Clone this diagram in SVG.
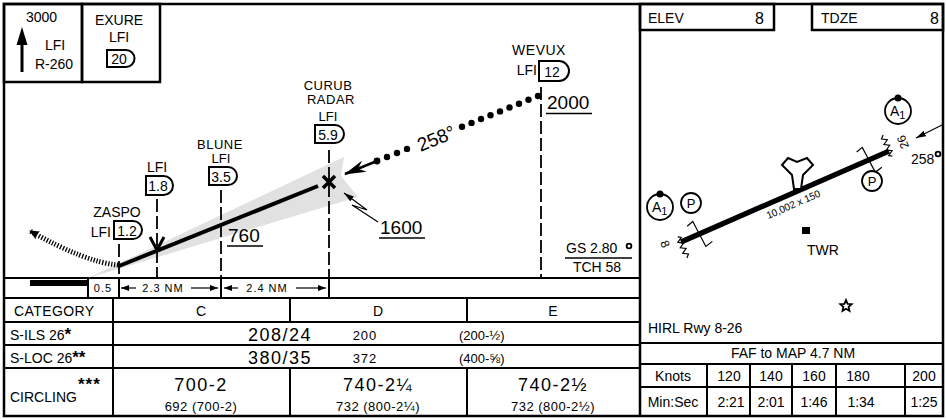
<svg xmlns="http://www.w3.org/2000/svg" width="946" height="419" viewBox="0 0 946 419">
<defs>
<style>
text{font-family:"Liberation Sans",Arial,sans-serif;fill:#000}
.f14{font-size:14px}
.f13{font-size:13px}
.f12{font-size:12px}
.f11{font-size:11px}
.f10{font-size:10px}
.big{font-size:18px;letter-spacing:1.5px}
.alt{font-size:19px}
.m{text-anchor:middle}
.e{text-anchor:end}
.frame{fill:none;stroke:#000;stroke-width:2.5}
.grid{fill:none;stroke:#000;stroke-width:2}
.dash{fill:none;stroke:#000;stroke-width:1.8;stroke-dasharray:13 4}
.dme{fill:#fff;stroke:#000;stroke-width:2}
.thin{fill:none;stroke:#000;stroke-width:1.2}
.ul{stroke:#000;stroke-width:1.3}
.dot{fill:#000}
.circ{fill:#fff;stroke:#000;stroke-width:1.8}
</style>
<marker id="sa" viewBox="0 0 8 6" refX="8" refY="3" markerWidth="8" markerHeight="6" markerUnits="userSpaceOnUse" orient="auto"><path d="M0,0 L8,3 L0,6 Z"/></marker>
<marker id="barb" viewBox="0 0 22 12" refX="21" refY="6" markerWidth="22" markerHeight="12" markerUnits="userSpaceOnUse" orient="auto"><path d="M0,0 L22,6 L0,12 L7,6 Z"/></marker>
<marker id="ma" viewBox="0 0 10 9" refX="9" refY="4.5" markerWidth="10" markerHeight="9" markerUnits="userSpaceOnUse" orient="auto"><path d="M0,0 L10,4.5 L0,9 L2,4.5 Z"/></marker>
<marker id="ta" viewBox="0 0 10 6" refX="10" refY="3" markerWidth="10" markerHeight="6" markerUnits="userSpaceOnUse" orient="auto"><path d="M0,0 L10,3 L0,6 Z"/></marker>
</defs>
<rect x="0" y="0" width="946" height="419" fill="#fff"/>

<!-- frame and tables -->
<g id="frame">
<rect class="frame" x="4" y="4" width="939" height="412"/>
<line class="frame" x1="640" y1="4" x2="640" y2="416"/>
<rect class="frame" x="4" y="4" width="78" height="78"/>
<rect class="frame" x="82" y="4" width="78" height="78"/>
<rect class="frame" x="640" y="4" width="134" height="26"/>
<rect class="frame" x="812" y="4" width="131" height="26"/>
<path class="grid" d="M4,278 H640 M4,298 H640 M4,322 H640 M4,345 H640 M4,368 H640"/>
<path class="grid" d="M88,278 V298 M119,278 V298 M221,278 V298 M329,278 V298"/>
<path class="grid" d="M113,298 V416 M290,298 V322 M290,368 V416 M467,298 V322 M467,368 V416"/>
<path class="grid" d="M640,343 H943 M640,364 H943 M640,387 H943"/>
<path class="grid" d="M707,364 V416 M750,364 V416 M792,364 V416 M836,364 V416 M905,364 V416"/>
</g>

<!-- top-left boxes -->
<g id="msa">
<line x1="22" y1="72" x2="22" y2="40" stroke="#000" stroke-width="3"/>
<path d="M22,27 L27.5,45 L16.5,45 Z"/>
<text class="f14" x="26" y="22">3000</text>
<text class="f14" x="45" y="50">LFI</text>
<text class="f14" x="35" y="69">R-260</text>
</g>
<g id="exure">
<text class="f14 m" x="119" y="25">EXURE</text>
<text class="f14 m" x="119" y="42">LFI</text>
<path class="dme" d="M107,50 H126 A8.5,8.5 0 0 1 126,67 H107 Z"/>
<text class="f14 m" x="119" y="64">20</text>
</g>

<!-- glide slope wedge -->
<g id="wedge">
<path d="M88,278 L344,157 L341,176 L358,197 Z" fill="#e1e1e1"/>
</g>

<!-- connectors / profile -->
<g id="connectors">
<path class="dash" d="M119,244 V278"/>
<path class="dash" d="M157,199 V278"/>
<path class="dash" d="M221,190 V278"/>
<path class="dash" d="M329,150 V278"/>
<path class="dash" d="M541,87 V278"/>
<line x1="119" y1="266" x2="318" y2="186" stroke="#000" stroke-width="4"/>
<path d="M118,265 Q85,262 30,231" fill="none" stroke="#000" stroke-width="5" stroke-dasharray="1.3 1.7" marker-end="url(#ma)"/>
<path d="M150,237 L157,250 L164,237" fill="none" stroke="#000" stroke-width="3"/>
<g class="dot">
<circle cx="538" cy="96" r="3.2"/><circle cx="528.5" cy="99.8" r="3.2"/><circle cx="519" cy="103.7" r="3.2"/><circle cx="509.5" cy="107.5" r="3.2"/><circle cx="500" cy="111.4" r="3.2"/><circle cx="490.5" cy="115.2" r="3.2"/><circle cx="481" cy="119" r="3.2"/><circle cx="471.5" cy="122.9" r="3.2"/><circle cx="462" cy="126.7" r="3.2"/>
<circle cx="407" cy="148.9" r="3.2"/><circle cx="397" cy="153" r="3.2"/><circle cx="387" cy="157" r="3.2"/><circle cx="377" cy="161" r="3.4"/>
</g>
<line x1="377" y1="161" x2="345" y2="174" stroke="#000" stroke-width="2.5" marker-end="url(#barb)"/>
<polyline class="thin" points="378,222 352,205 367,210 344,193" marker-end="url(#ta)"/>
<path d="M323,176 L335,188 M335,176 L323,188" stroke="#000" stroke-width="3.5"/>
<line class="thin" x1="136" y1="288" x2="121" y2="288" marker-end="url(#sa)"/>
<line class="thin" x1="191" y1="288" x2="218" y2="288" marker-end="url(#sa)"/>
<line class="thin" x1="238" y1="288" x2="224" y2="288" marker-end="url(#sa)"/>
<line class="thin" x1="296" y1="288" x2="326" y2="288" marker-end="url(#sa)"/>
</g>

<!-- fixes -->
<g id="zaspo">
<text class="f14 m" x="117" y="217">ZASPO</text>
<text class="f14 e" x="111" y="237">LFI</text>
<path class="dme" d="M114,221 H133 A9,9 0 0 1 133,239 H114 Z"/>
<text class="f14 m" x="127" y="236">1.2</text>
</g>
<g id="fix18">
<text class="f14 m" x="157" y="172">LFI</text>
<path class="dme" d="M146,176 H163.5 A9.5,9.5 0 0 1 163.5,195 H146 Z"/>
<text class="f14 m" x="158" y="191">1.8</text>
</g>
<g id="blune">
<text class="f13 m" x="220" y="149" style="letter-spacing:0.5px">BLUNE</text>
<text class="f13 m" x="221" y="163">LFI</text>
<path class="dme" d="M209,167 H228 A9,9 0 0 1 228,185 H209 Z"/>
<text class="f14 m" x="221" y="182">3.5</text>
</g>
<g id="curub">
<text class="f13 m" x="328" y="90" style="letter-spacing:0.5px">CURUB</text>
<text class="f13 m" x="331" y="104" style="letter-spacing:0.5px">RADAR</text>
<text class="f13 m" x="328" y="121">LFI</text>
<path class="dme" d="M315,125 H335 A9,9 0 0 1 335,143 H315 Z"/>
<text class="f14 m" x="328" y="140">5.9</text>
</g>
<g id="wevux">
<text class="f14 m" x="539" y="55" style="letter-spacing:0.5px">WEVUX</text>
<text class="f14 e" x="537" y="75">LFI</text>
<path class="dme" d="M539,61 H559 A10,10 0 0 1 559,81 H539 Z"/>
<text class="f14 m" x="552" y="77">12</text>
</g>

<!-- altitudes and labels -->
<g id="labels">
<text class="alt" x="547" y="109">2000</text><line class="ul" x1="546" y1="113.5" x2="592" y2="113.5"/>
<text class="alt" x="228" y="242">760</text><line class="ul" x1="227" y1="246" x2="263" y2="246"/>
<text class="alt" x="380" y="234">1600</text><line class="ul" x1="379" y1="238" x2="425" y2="238"/>
<g transform="translate(436,138) rotate(-22)"><text class="m" style="font-size:19px" x="0" y="7">258°</text></g>
<text class="f14" x="566" y="253">GS 2.80</text>
<circle cx="629" cy="246" r="2.4" fill="none" stroke="#000" stroke-width="1.8"/>
<line class="ul" x1="565" y1="258" x2="632" y2="258"/>
<text class="f14 m" x="597" y="272">TCH 58</text>
<rect x="30" y="280" width="58" height="6"/>
<text class="f11 m" x="103" y="292" style="letter-spacing:1px">0.5</text>
<text class="f11 m" x="163" y="292" style="letter-spacing:1px">2.3 NM</text>
<text class="f11 m" x="267" y="292" style="letter-spacing:1px">2.4 NM</text>
</g>

<!-- minimums -->
<g id="minima">
<text class="f14" x="14" y="316" style="letter-spacing:0.4px">CATEGORY</text>
<text class="f14 m" x="201" y="316">C</text>
<text class="f14 m" x="378" y="316">D</text>
<text class="f14 m" x="553" y="316">E</text>
<text class="f14" x="10" y="340">S-ILS 26<tspan font-weight="bold" font-size="17">*</tspan></text>
<text class="big m" x="280" y="341">208/24</text>
<text class="f13 m" x="365" y="340" style="letter-spacing:1px">200</text>
<text class="f13" x="459" y="340">(200-½)</text>
<text class="f14" x="10" y="363">S-LOC 26<tspan font-weight="bold" font-size="17">**</tspan></text>
<text class="big m" x="280" y="364">380/35</text>
<text class="f13 m" x="365" y="363" style="letter-spacing:1px">372</text>
<text class="f13" x="459" y="363">(400-⅝)</text>
<text class="f14" x="10" y="402">CIRCLING</text>
<text x="78" y="390" font-weight="bold" font-size="17" style="letter-spacing:1px">***</text>
<text class="big m" x="201" y="391">700-2</text>
<text class="f13 m" x="201" y="411" style="letter-spacing:0.5px">692  (700-2)</text>
<text class="big m" x="378" y="391">740-2¼</text>
<text class="f13 m" x="378" y="411" style="letter-spacing:0.5px">732  (800-2¼)</text>
<text class="big m" x="553" y="391">740-2½</text>
<text class="f13 m" x="553" y="411" style="letter-spacing:0.5px">732  (800-2½)</text>
</g>

<!-- right panel -->
<g id="elev">
<text class="f14" x="648" y="23">ELEV</text>
<text class="f14 e" x="764" y="24" style="font-size:16px">8</text>
<text class="f14" x="821" y="23">TDZE</text>
<text class="f14 e" x="939" y="24" style="font-size:16px">8</text>
</g>

<g id="airport">
<g transform="translate(681,242) rotate(-23.63)">
<rect x="0" y="-2.6" width="227" height="5.2"/>
<polyline class="thin" points="-1,-6 2,-4 -3,-1 2,2 -3,5 2,8 -3,11 2,14 -1,17" stroke-width="1.3"/>
<polyline class="thin" points="228,6 225,4 230,1 225,-2 230,-5 225,-8 230,-11 225,-14 228,-17" stroke-width="1.3"/>
<polyline class="thin" points="12,-12 19,-14 21,14 29,12" stroke-width="1.3"/>
<polyline class="thin" points="197,-12 204,-14 206,14 214,12" stroke-width="1.3"/>
<text class="f10 m" x="118" y="14">10,002 x 150</text>
</g>
<path d="M782,165 L788,158 L797,162 L807,158 L813,165 L803,175 L801,189 L794,189 L792,175 Z" fill="#fff" stroke="#000" stroke-width="2"/>
<g transform="translate(665,244) rotate(68)"><text class="f12 m" x="0" y="4">8</text></g>
<g transform="translate(903,142) rotate(-112)"><text class="f12 m" x="0" y="4">26</text></g>
<rect x="802" y="227" width="8" height="7"/>
<text class="f14" x="807" y="255">TWR</text>
<path d="M846,300 L847.6,303.8 L851.7,304.2 L848.6,306.9 L849.5,310.9 L846,308.8 L842.5,310.9 L843.4,306.9 L840.3,304.2 L844.4,303.8 Z" fill="#fff" stroke="#000" stroke-width="1.8"/>
<line class="thin" x1="944" y1="124" x2="916" y2="138" marker-end="url(#ta)"/>
<text class="f14" x="911" y="164">258</text>
<circle cx="938" cy="154" r="2.4" fill="none" stroke="#000" stroke-width="1.8"/>
</g>

<g id="a1-left">
<circle class="circ" cx="660" cy="207" r="13"/>
<circle cx="660" cy="194" r="3.5"/>
<text class="f14" x="652" y="212">A<tspan font-size="11" dy="3">1</tspan></text>
</g>
<g id="p-left">
<circle class="circ" cx="691" cy="203" r="10"/>
<text class="f13 m" x="691" y="208">P</text>
</g>
<g id="a1-right">
<circle class="circ" cx="898" cy="111" r="13"/>
<circle cx="898" cy="98" r="3.5"/>
<text class="f14" x="890" y="116">A<tspan font-size="11" dy="3">1</tspan></text>
</g>
<g id="p-right">
<circle class="circ" cx="872" cy="181" r="10"/>
<text class="f13 m" x="872" y="186">P</text>
</g>

<g id="lights">
<text class="f14" x="648" y="333">HIRL Rwy 8-26</text>
<text class="f14 m" x="793" y="358">FAF to MAP 4.7 NM</text>
<text class="f14 m" x="673" y="381">Knots</text>
<text class="f14 m" x="729" y="381">120</text>
<text class="f14 m" x="771" y="381">140</text>
<text class="f14 m" x="814" y="381">160</text>
<text class="f14 m" x="858" y="381">180</text>
<text class="f14 m" x="924" y="381">200</text>
<text class="f14 m" x="673" y="407">Min:Sec</text>
<text class="f14 m" x="731" y="407">2:21</text>
<text class="f14 m" x="771" y="407">2:01</text>
<text class="f14 m" x="814" y="407">1:46</text>
<text class="f14 m" x="861" y="407">1:34</text>
<text class="f14 m" x="924" y="407">1:25</text>
</g>
</svg>
